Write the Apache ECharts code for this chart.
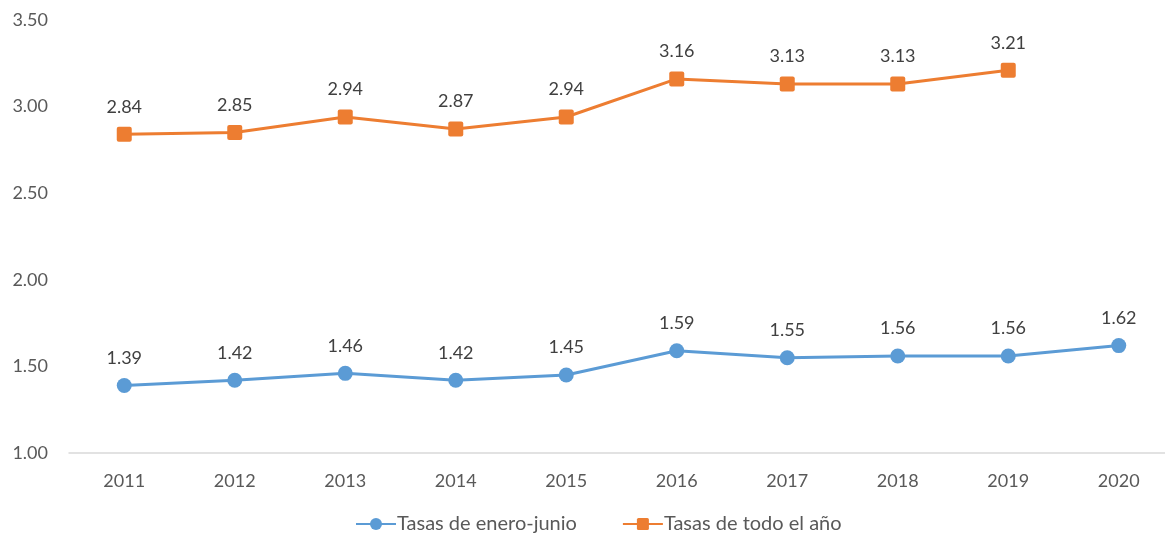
<!DOCTYPE html>
<html>
<head>
<meta charset="utf-8">
<script src="https://cdn.jsdelivr.net/npm/echarts@6/dist/echarts.min.js"></script>
<style>html,body{margin:0;padding:0;background:#fff;overflow:hidden;width:1165px;height:533px;}#c{width:1174px;height:533px;}</style>
</head>
<body>
<div id="c"></div>
<script>
const categories = ['2011','2012','2013','2014','2015','2016','2017','2018','2019','2020'];
const eneroJunio = [1.39,1.42,1.46,1.42,1.45,1.59,1.55,1.56,1.56,1.62];
const todoElAno = [2.84,2.85,2.94,2.87,2.94,3.16,3.13,3.13,3.21,null];
const seriesNames = ['Tasas de enero-junio','Tasas de todo el año'];

const font = 'Lato, Open Sans, sans-serif';
const chart = echarts.init(document.getElementById('c'), null, {renderer:'canvas'});
const lbl = {show:true, position:'top', distance:11, color:'#404040', fontSize:18, fontFamily:font, formatter: p => p.value == null ? '' : p.value.toFixed(2)};
chart.setOption({
  animation:false,
  grid:{left:69, top:20, right:0, height:433},
  legend:{
    top:509, left:350, itemWidth:40, itemHeight:15, itemGap:45,
    textStyle:{color:'#595959', fontSize:20, fontFamily:font, padding:[0,0,0,-4]},
    data:seriesNames
  },
  xAxis:{
    type:'category', data:categories, boundaryGap:true,
    axisLine:{lineStyle:{color:'#d9d9d9', width:1.5}},
    axisTick:{show:false},
    axisLabel:{color:'#595959', fontSize:18, fontFamily:font, margin:19}
  },
  yAxis:{
    type:'value', min:1, max:3.5, interval:0.5,
    splitLine:{show:false}, axisLine:{show:false}, axisTick:{show:false},
    axisLabel:{color:'#595959', fontSize:18, fontFamily:font, margin:21, formatter:v=>v.toFixed(2)}
  },
  series:[
    {name:seriesNames[0], type:'line', data:eneroJunio, symbol:'circle', symbolSize:15,
     itemStyle:{color:'#5B9BD5'}, lineStyle:{color:'#5B9BD5', width:3}, label:lbl},
    {name:seriesNames[1], type:'line', data:todoElAno, symbol:'path://M2,0 H13 Q15,0 15,2 V13 Q15,15 13,15 H2 Q0,15 0,13 V2 Q0,0 2,0 Z', symbolSize:15,
     itemStyle:{color:'#ED7D31'}, lineStyle:{color:'#ED7D31', width:3}, label:lbl}
  ]
});
</script>
</body>
</html>
